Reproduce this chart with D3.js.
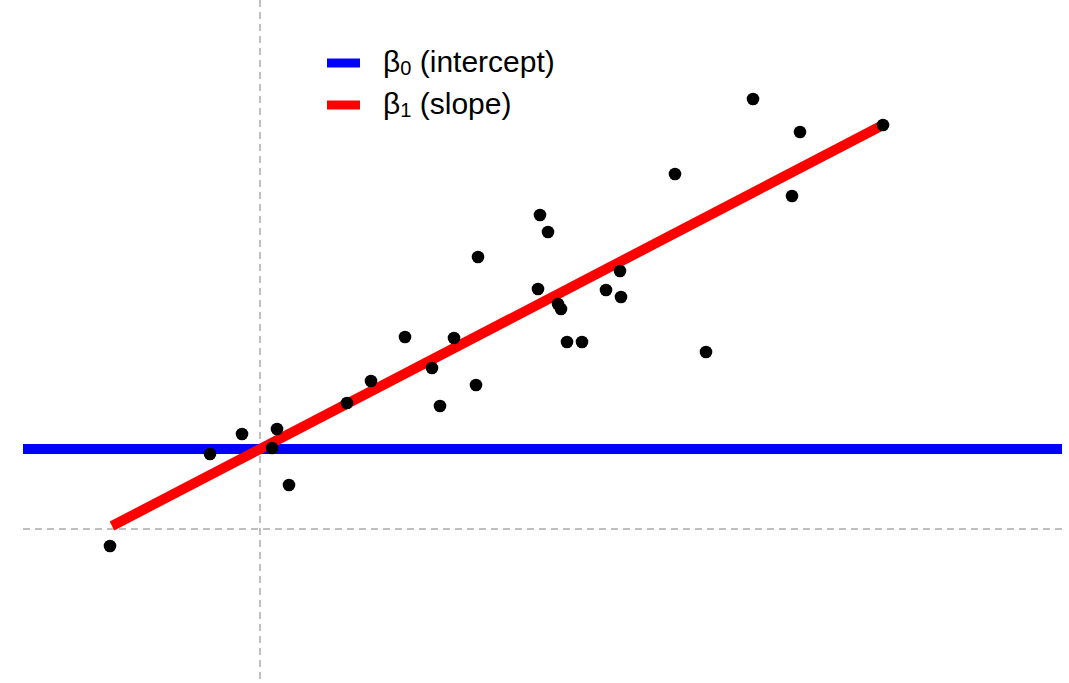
<!DOCTYPE html>
<html>
<head>
<meta charset="utf-8">
<script src="https://cdn.jsdelivr.net/npm/d3@7"></script>
<style>
  body { margin: 0; background: #fff; }
  svg { display: block; font-family: "Liberation Sans", Arial, sans-serif; }
</style>
</head>
<body>
<div id="chart"></div>
<script>
// observed points
const xs = [-1.50, -0.50, -0.18, 0.17, 0.12, 0.29, 0.87, 1.11, 1.45, 1.72,
            1.80, 1.94, 2.16, 2.18, 2.78, 2.80, 2.88, 2.98, 3.01, 3.07,
            3.22, 3.46, 3.60, 3.61, 4.15, 4.46, 4.93, 5.32, 5.40, 6.23]
const ys = [-0.17, 0.75, 0.95, 1.00, 0.81, 0.44, 1.26, 1.48, 1.92, 1.61,
            1.23, 1.91, 1.44, 2.72, 2.40, 3.14, 2.97, 2.25, 2.20, 1.87,
            1.87, 2.39, 2.58, 2.32, 3.55, 1.77, 4.30, 3.33, 3.97, 4.04]

const beta0 = 0.8
const beta1 = 0.52
const fitRange = [-1.48, 6.22]
const interceptRange = [-2.37, 8.02]
const legendItems = [
    { sym: "β", sub: "0", label: " (intercept)", color: "blue" },
    { sym: "β", sub: "1", label: " (slope)", color: "red" }
]

const width = 1069, height = 683

const svg = d3.select('#chart')
    .append('svg')
    .attr('width', width)
    .attr('height', height)

const x = d3.scaleLinear()
    .domain([-2.37, 8.02])
    .range([23, 1062])
const y = d3.scaleLinear()
    .domain([-1.54, 5.29])
    .range([height, 0])

// reference axes at zero
svg.append('line')
    .attr('x1', x(0)).attr('x2', x(0))
    .attr('y1', 0).attr('y2', height)
    .attr('stroke', '#aaa')
    .attr('stroke-width', 1.5)
    .attr('stroke-dasharray', '7,5')
svg.append('line')
    .attr('x1', x(interceptRange[0])).attr('x2', x(interceptRange[1]))
    .attr('y1', y(0)).attr('y2', y(0))
    .attr('stroke', '#aaa')
    .attr('stroke-width', 1.5)
    .attr('stroke-dasharray', '7,5')

const line = d3.line()
    .x(d => x(d[0]))
    .y(d => y(d[1]))

svg.append('path')
    .datum(interceptRange.map(v => [v, beta0]))
    .attr('fill', 'none')
    .attr('stroke', 'blue')
    .attr('stroke-width', 10)
    .attr('d', line)

svg.append('path')
    .datum(fitRange.map(v => [v, beta0 + beta1 * v]))
    .attr('fill', 'none')
    .attr('stroke', 'red')
    .attr('stroke-width', 10)
    .attr('d', line)

svg.append('g')
    .selectAll('circle')
    .data(xs.map((v, i) => [v, ys[i]]))
    .join('circle')
    .attr('cx', d => x(d[0]))
    .attr('cy', d => y(d[1]))
    .attr('r', 6.3)
    .attr('fill', 'black')

// legend
const legend = svg.append('g')
    .attr('transform', 'translate(327,63)')
const item = legend.selectAll('g')
    .data(legendItems)
    .join('g')
    .attr('transform', (d, i) => `translate(0,${i * 42})`)
item.append('line')
    .attr('x1', 0).attr('x2', 33)
    .attr('stroke', d => d.color)
    .attr('stroke-width', 9)
const txt = item.append('text')
    .attr('x', 56)
    .attr('y', 9)
    .attr('font-size', 30)
    .attr('fill', '#000')
txt.append('tspan').text(d => d.sym)
txt.append('tspan').attr('font-size', 20).attr('dy', 3).text(d => d.sub)
txt.append('tspan').attr('dy', -3).text(d => d.label)
</script>
</body>
</html>
